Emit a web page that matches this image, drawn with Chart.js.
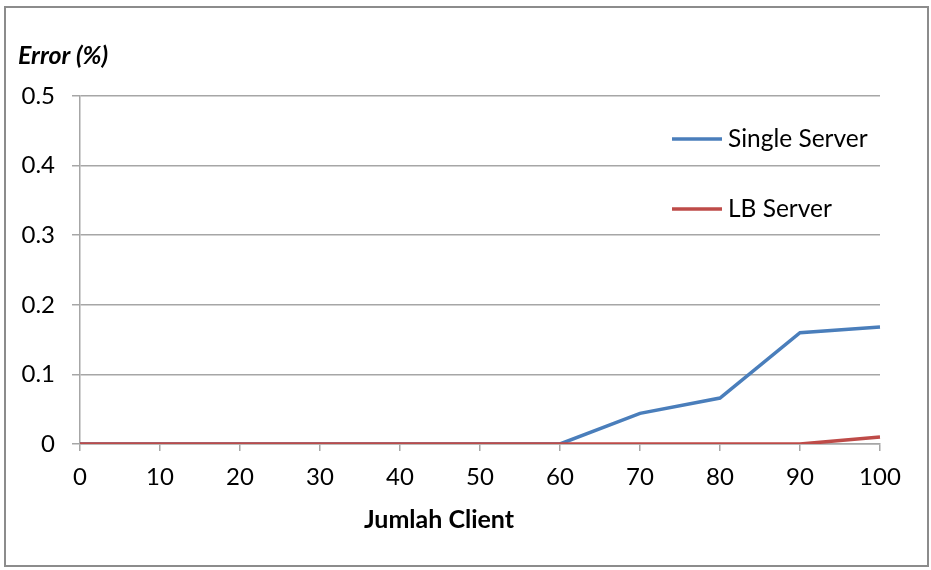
<!DOCTYPE html>
<html>
<head>
<meta charset="utf-8">
<script src="https://cdn.jsdelivr.net/npm/chart.js@4.4.1/dist/chart.umd.min.js"></script>
<style>
  html, body { margin: 0; padding: 0; background: #ffffff; }
  #wrap { position: relative; width: 931px; height: 570px; }
</style>
</head>
<body>
<div id="wrap"><canvas id="c" width="931" height="570"></canvas></div>
<script>
// Number of clients on the x axis
const clients = ['0', '10', '20', '30', '40', '50', '60', '70', '80', '90', '100'];
// Error percentage per client count
const singleServer = [0, 0, 0, 0, 0, 0, 0, 0.044, 0.066, 0.16, 0.168];
const lbServer = [0, 0, 0, 0, 0, 0, 0, 0, 0, 0, 0.01];
const seriesNames = ['Single Server', 'LB Server'];
const yTitle = 'Error (%)';
const xTitle = 'Jumlah Client';

const FONT = 'Lato, "Noto Sans", sans-serif';
const GRID = '#a6a6a6';

// Frame, axis titles and a two-row legend placed inside the plot
const decor = {
  id: 'decor',
  afterDraw(chart) {
    const ctx = chart.ctx;
    const a = chart.chartArea;
    ctx.save();
    ctx.strokeStyle = '#8c8c8c';
    ctx.lineWidth = 2;
    ctx.strokeRect(5, 7, 923, 559);

    ctx.fillStyle = '#000';
    ctx.textBaseline = 'middle';
    ctx.textAlign = 'left';
    ctx.font = 'italic bold 25px ' + FONT;
    ctx.fillText(yTitle, 18, 56);

    ctx.textAlign = 'center';
    ctx.font = 'bold 25px ' + FONT;
    ctx.fillText(xTitle, 439, 520);

    ctx.textAlign = 'left';
    ctx.font = '24.5px ' + FONT;
    chart.data.datasets.forEach((ds, i) => {
      const y = 139 + i * 70;
      ctx.strokeStyle = ds.borderColor;
      ctx.lineWidth = 3.5;
      ctx.beginPath();
      ctx.moveTo(a.right - 208, y);
      ctx.lineTo(a.right - 158, y);
      ctx.stroke();
      ctx.fillStyle = '#000';
      ctx.fillText(ds.label, a.right - 152, y);
    });
    ctx.restore();
  }
};

new Chart(document.getElementById('c'), {
  type: 'line',
  data: {
    labels: clients,
    datasets: [
      { label: seriesNames[0], data: singleServer, borderColor: '#4a7ebb', borderWidth: 3.5,
        pointRadius: 0, tension: 0, fill: false, order: 1 },
      { label: seriesNames[1], data: lbServer, borderColor: '#be4b48', borderWidth: 3.5,
        pointRadius: 0, tension: 0, fill: false, order: 0 }
    ]
  },
  options: {
    responsive: false,
    animation: false,
    events: [],
    layout: { padding: { left: 0, right: 51, top: 96, bottom: 60 } },
    plugins: { legend: { display: false }, tooltip: { enabled: false } },
    scales: {
      x: {
        offset: false,
        grid: { drawOnChartArea: false, drawTicks: true, tickLength: 7, color: GRID, lineWidth: 1.5 },
        border: { display: true, color: GRID, width: 1.5 },
        ticks: { color: '#000', font: { family: FONT, size: 24 }, padding: 12, maxRotation: 0, autoSkip: false },
        afterFit(s) { s.height = 66; }
      },
      y: {
        min: 0, max: 0.5,
        grid: { color: GRID, lineWidth: 1.5, tickLength: 8 },
        border: { display: true, color: GRID, width: 1.5 },
        ticks: { stepSize: 0.1, color: '#000', font: { family: FONT, size: 24 }, padding: 17,
          callback: v => (Math.round(v * 10) / 10).toString() },
        afterFit(s) { s.width = 80; }
      }
    }
  },
  plugins: [decor]
});
</script>
</body>
</html>
